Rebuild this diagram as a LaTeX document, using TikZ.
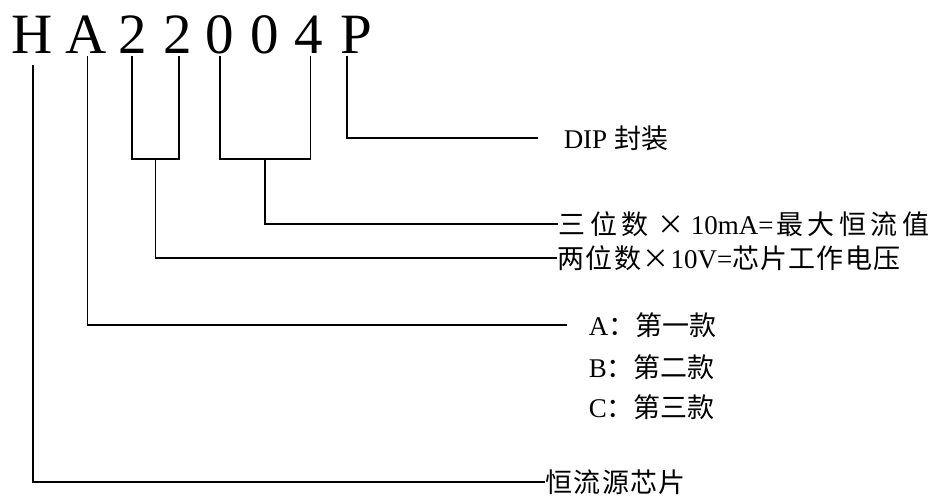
\documentclass[tikz,border=0pt]{standalone}
\usepackage{fontspec}
\setmainfont{Liberation Serif}
\newfontfamily\cjk{Noto Sans CJK SC}
\newcommand\gapx{\hspace{4.5pt}}
\newcommand\gapy{\hspace{1.2pt}}
\begin{document}
\begin{tikzpicture}[x=1pt,y=-1pt,line width=1.5pt,
  title/.style={inner sep=0pt,anchor=base,font=\fontsize{57}{60}\selectfont},
  lbl/.style={inner sep=0pt,anchor=west,font=\fontsize{27}{30}\selectfont}]
\useasboundingbox (0,0) rectangle (938,496);
% part number
\node[title] (tH)  at (32,53)  {H};
\node[title] (tA)  at (86,53)  {A};
\node[title] (t2a) at (133,53) {2};
\node[title] (t2b) at (178,53) {2};
\node[title] (t0a) at (220,53) {0};
\node[title] (t0b) at (265,53) {0};
\node[title] (t4)  at (309,53) {4};
\node[title] (tP)  at (356,53) {P};
% labels
\node[lbl] (lP)   at (563,138) {DIP {\cjk 封装}};
\node[lbl] (l004) at (558,224) {{\cjk 三\gapx 位\gapx 数\hspace{9pt}×\hspace{6pt}}10mA={\cjk\hspace{3pt}最\gapx 大\gapx 恒\gapx 流\gapx 值}};
\node[lbl] (l22)  at (557,258) {{\cjk 两\gapy 位\gapy 数\gapy ×\gapy}10V={\cjk 芯\gapy 片\gapy 工\gapy 作\gapy 电\gapy 压}};
\node[lbl] (lA)   at (588,325) {A{\cjk ：第一款}};
\node[lbl] (lB)   at (588,367) {B{\cjk ：第二款}};
\node[lbl] (lC)   at (588,407) {C{\cjk ：第三款}};
\node[lbl] (lH)   at (545,482) {\cjk 恒\gapy 流\gapy 源\gapy 芯\gapy 片};
% junctions and free ends
\coordinate (eP) at (538,138);
\coordinate (eA) at (567,325);
\coordinate (j22) at (155.5,159);
\coordinate (j004) at (265,159);
% connectors
\draw ([xshift=1pt,yshift=-12pt]tH.base) |- (lH.west);
\draw ([xshift=1.5pt,yshift=-3pt]tA.base) |- (eA);
\draw ([xshift=-1pt,yshift=-3pt]t2a.base) |- (j22) -| ([xshift=1pt,yshift=-3pt]t2b.base);
\draw (j22) |- (l22.west);
\draw ([yshift=-3pt]t0a.base) |- (j004) -| ([xshift=1.5pt,yshift=-3pt]t4.base);
\draw (j004) |- (l004.west);
\draw ([xshift=-9pt,yshift=-3pt]tP.base) |- (eP);
\end{tikzpicture}
\end{document}
